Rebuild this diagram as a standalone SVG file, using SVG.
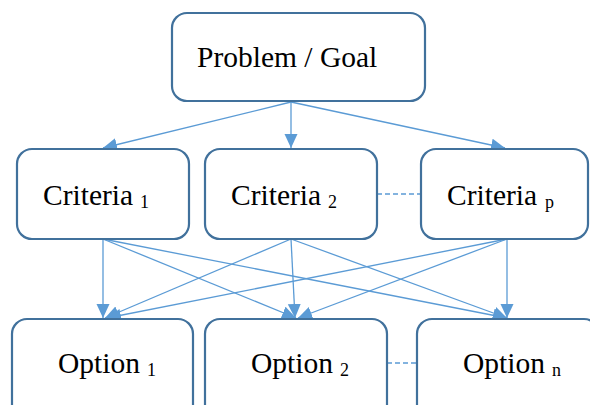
<svg xmlns="http://www.w3.org/2000/svg" width="590" height="405" viewBox="0 0 590 405">
<style>
.box{fill:#ffffff;stroke:#41719C;stroke-width:2.2}
.lbl{font-family:"Liberation Serif","Times New Roman",serif;font-size:29.5px;fill:#000}
.sub{font-family:"Liberation Serif","Times New Roman",serif;font-size:18px;fill:#000}
.con{stroke:#5B9BD5;stroke-width:1.3;fill:none;marker-end:url(#arr)}
.dash{stroke:#5B9BD5;stroke-width:1.3;fill:none;stroke-dasharray:5,3}
</style>
<defs>
<marker id="arr" markerUnits="userSpaceOnUse" markerWidth="16" markerHeight="14" refX="14" refY="6.5" orient="auto">
<path d="M0,0 L14,6.5 L0,13 z" fill="#5B9BD5"/>
</marker>
</defs>
<rect width="590" height="405" fill="#ffffff"/>
<g id="connectors">
<line class="con" x1="291" y1="102" x2="103" y2="148"/>
<line class="con" x1="291" y1="102" x2="291" y2="148"/>
<line class="con" x1="291" y1="102" x2="505" y2="148"/>
<line class="con" x1="103" y1="239" x2="103" y2="318"/>
<line class="con" x1="103" y1="239" x2="296" y2="318"/>
<line class="con" x1="103" y1="239" x2="507" y2="318"/>
<line class="con" x1="291" y1="239" x2="105" y2="318"/>
<line class="con" x1="291" y1="239" x2="295" y2="318"/>
<line class="con" x1="291" y1="239" x2="507" y2="318"/>
<line class="con" x1="507" y1="239" x2="107" y2="318"/>
<line class="con" x1="507" y1="239" x2="298" y2="318"/>
<line class="con" x1="507" y1="239" x2="507" y2="318"/>
<line class="dash" x1="377" y1="194" x2="421" y2="194"/>
<line class="dash" x1="387" y1="363" x2="417" y2="363"/>
</g>
<g id="goal">
<rect class="box" x="172" y="13" width="253" height="88" rx="15"/>
<text class="lbl" x="197" y="67">Problem / Goal</text>
</g>
<g id="criteria1">
<rect class="box" x="17" y="149" width="172" height="90" rx="15"/>
<text class="lbl" x="43" y="205">Criteria</text><text class="sub" x="140" y="208">1</text>
</g>
<g id="criteria2">
<rect class="box" x="205" y="149" width="172" height="90" rx="15"/>
<text class="lbl" x="231" y="205">Criteria</text><text class="sub" x="328" y="208">2</text>
</g>
<g id="criteriap">
<rect class="box" x="421" y="149" width="167" height="90" rx="15"/>
<text class="lbl" x="447" y="205">Criteria</text><text class="sub" x="545" y="208">p</text>
</g>
<g id="option1">
<rect class="box" x="12" y="319" width="181" height="110" rx="15"/>
<text class="lbl" x="58" y="373">Option</text><text class="sub" x="147" y="376">1</text>
</g>
<g id="option2">
<rect class="box" x="205" y="319" width="182" height="110" rx="15"/>
<text class="lbl" x="251" y="373">Option</text><text class="sub" x="340" y="376">2</text>
</g>
<g id="optionn">
<rect class="box" x="417" y="319" width="182" height="110" rx="15"/>
<text class="lbl" x="463" y="373">Option</text><text class="sub" x="552" y="376">n</text>
</g>
</svg>
